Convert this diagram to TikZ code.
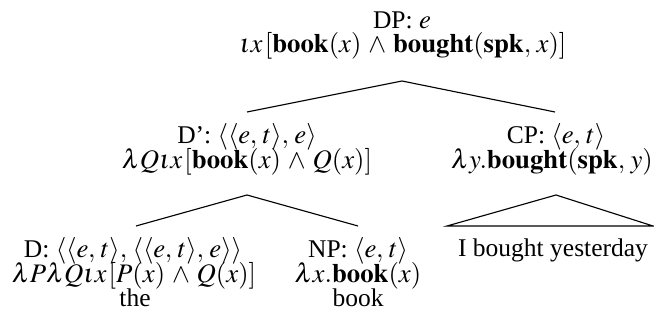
\documentclass[tikz,border=0pt]{standalone}
\usepackage{mathptmx}
\usepackage{fontspec}
\setmainfont{Liberation Serif}
\DeclareMathSizes{10.2}{10.7}{7.5}{5.4}
\thinmuskip=3.6mu
\medmuskip=4.6mu plus 2mu minus 2mu
\begin{document}
\begin{tikzpicture}[x=0.4pt,y=-0.4pt,
  lbl/.style={anchor=base,inner sep=0pt,font=\fontsize{10.2}{9.8}\selectfont},
  branch/.style={line width=0.45pt}]
\useasboundingbox (0,0) rectangle (654,325);
% DP
\node[lbl] (dp1) at (402,29) {DP: $e$};
\node[lbl] (dp2) at (403,53) {$\iota x\mkern1.5mu[\mathbf{book}(x)\wedge\mathbf{bought}(\mathbf{spk},x)]$};
% D'
\node[lbl] (dbar1) at (247,144) {D': $\langle\langle e,t\rangle,e\rangle$};
\node[lbl] (dbar2) at (247,168.5) {$\lambda Q\iota x\mkern1.5mu[\mathbf{book}(x)\wedge Q(x)]$};
% CP
\node[lbl] (cp1) at (556,144) {CP: $\langle e,t\rangle$};
\node[lbl] (cp2) at (552,168.5) {$\lambda y.\mathbf{bought}(\mathbf{spk},y)$};
% D
\node[lbl] (d1) at (133,258) {D: $\langle\langle e,t\rangle,\langle\langle e,t\rangle,e\rangle\rangle$};
\node[lbl] (d2) at (134,282.5) {$\lambda P\lambda Q\iota x\mkern1.5mu[P(x)\wedge Q(x)]$};
\node[lbl] (d3) at (135,307) {the};
% NP
\node[lbl] (np1) at (358,258) {NP: $\langle e,t\rangle$};
\node[lbl] (np2) at (358,282.5) {$\lambda x.\mathbf{book}(x)$};
\node[lbl] (np3) at (358,307) {book};
% CP content
\node[lbl] (ibought) at (553,257) {I bought yesterday};
% branch points
\coordinate (dpB) at (402,81);
\coordinate (dbarT) at (247,112);
\coordinate (cpT) at (555,112);
\coordinate (dbarB) at (247,195);
\coordinate (dT) at (136,226);
\coordinate (npT) at (358,226);
\coordinate (cpB) at (556,195);
\coordinate (triL) at (447,226);
\coordinate (triR) at (653,226);
\draw[branch] (dbarT) -- (dpB) -- (cpT);
\draw[branch] (dT) -- (dbarB) -- (npT);
\draw[branch] (triL) -- (cpB) -- (triR) -- cycle;
\end{tikzpicture}
\end{document}
